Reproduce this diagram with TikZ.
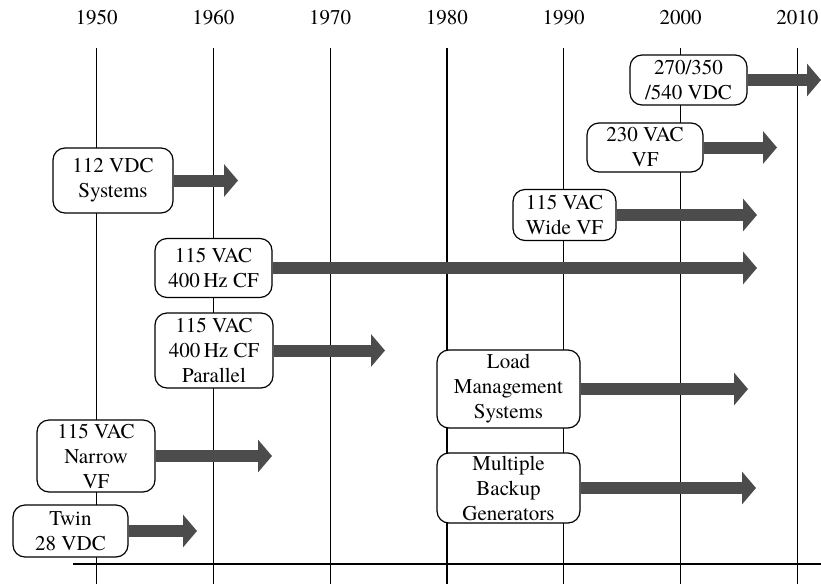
\documentclass[tikz,border=0pt]{standalone}
\usepackage{fontspec}
\setmainfont{texgyretermes}[Extension=.otf, UprightFont=*-regular]
\usepackage{tikz}
\usetikzlibrary{arrows.meta, positioning}

\begin{document}
\begin{tikzpicture}[
          x=1pt, y=-1pt,
          every node/.style={font=\fontsize{21}{25}\selectfont},
          era/.style={draw, rounded corners=12pt, fill=white, align=center,
                      line width=1.2pt, inner sep=0pt},
          trend/.style={line width=12pt, draw=black!70,
                        -{Triangle[length=14pt, width=32pt]}},
          yearline/.style={line width=1.2pt}
        ]
          \useasboundingbox (0,0) rectangle (821,584);
          % time axis
          \foreach \yr [count=\i from 0] in {1950,1960,1970,1980,1990,2000,2010} {
            \node (y\yr) at (96.5+116.8*\i, 18) {\yr};
            \coordinate (t\yr) at (96.5+116.8*\i, 48);
            \coordinate (b\yr) at (96.5+116.8*\i, 584);
            \draw[yearline] (t\yr) -- (b\yr);
          }
          \coordinate (axisL) at (73,564);
          \coordinate (axisR) at (821,564);
          \draw[line width=1.6pt] (axisL) -- (axisR);

          % technologies
          \node[era, minimum width=117pt, minimum height=50pt] (dc540) at (688.5,80) {270/350\\/540 VDC};
          \node[era, minimum width=116pt, minimum height=49pt] (ac230) at (645,147.5) {230 VAC\\VF};
          \node[era, minimum width=120pt, minimum height=65pt] (dc112) at (113,180.5) {112 VDC\\Systems};
          \node[era, minimum width=103pt, minimum height=51pt] (wide) at (564.5,215) {115 VAC\\Wide VF};
          \node[era, minimum width=117pt, minimum height=59pt] (cf) at (213.5,268) {115 VAC\\400\,Hz CF};
          \node[era, minimum width=118pt, minimum height=75pt] (cfpar) at (214,350.5) {115 VAC\\400\,Hz CF\\Parallel};
          \node[era, minimum width=143pt, minimum height=78pt] (load) at (508.5,389) {Load\\Management\\Systems};
          \node[era, minimum width=143pt, minimum height=70pt] (backup) at (508.5,488) {Multiple\\Backup\\Generators};
          \node[era, minimum width=118pt, minimum height=72pt] (narrow) at (96,456) {115 VAC\\Narrow\\VF};
          \node[era, minimum width=115pt, minimum height=52pt] (twin) at (70.5,531) {Twin\\28 VDC};

          % how long each one lasts
          \coordinate (dc540End) at (821,80);
          \coordinate (ac230End) at (777,147.5);
          \coordinate (dc112End) at (238,180.5);
          \coordinate (wideEnd) at (757,215);
          \coordinate (cfEnd) at (757,268);
          \coordinate (cfparEnd) at (385,350.5);
          \coordinate (loadEnd) at (748,389);
          \coordinate (backupEnd) at (756,488);
          \coordinate (narrowEnd) at (272,456);
          \coordinate (twinEnd) at (197,531);
          \foreach \n in {dc540,ac230,dc112,wide,cf,cfpar,load,backup,narrow,twin}
            \draw[trend] (\n.east) -- (\n End);
        \end{tikzpicture}
\end{document}
